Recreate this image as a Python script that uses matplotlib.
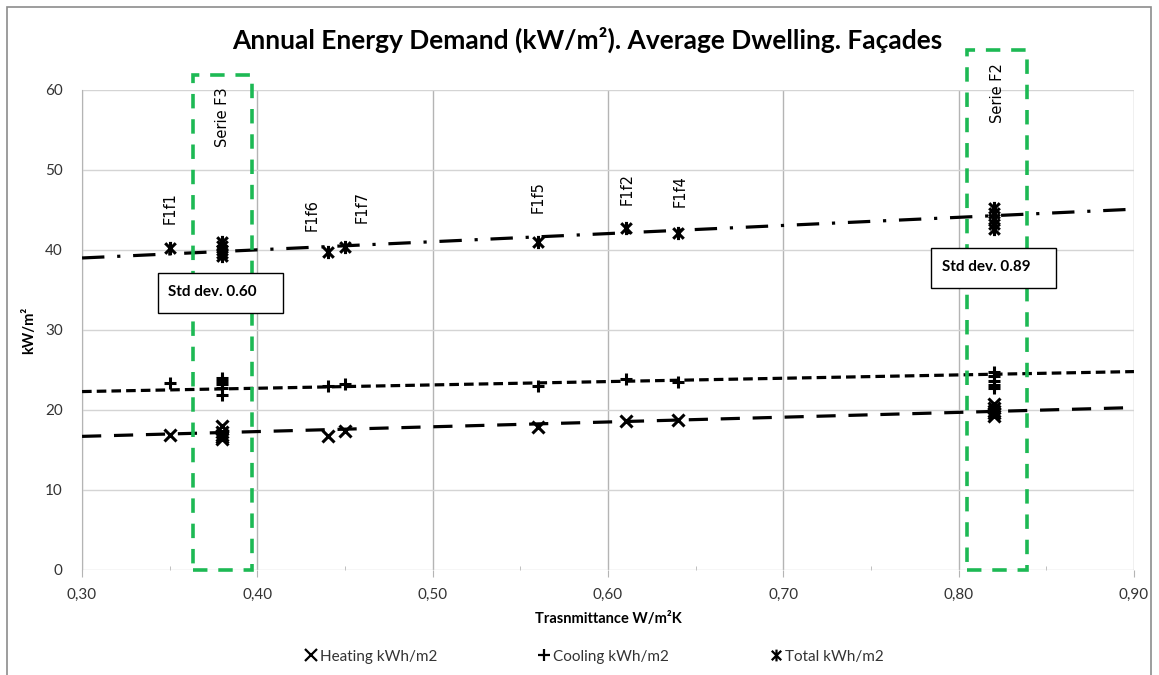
import numpy as np
import matplotlib
matplotlib.use("Agg")
import matplotlib.pyplot as plt
from matplotlib.patches import Rectangle
from matplotlib.path import Path
from matplotlib.ticker import FuncFormatter, MultipleLocator
from matplotlib.lines import Line2D

# Transmittance of each façade (W/m²K)
transmittance = [0.35, 0.38, 0.38, 0.38, 0.38, 0.38, 0.44, 0.45, 0.56, 0.61, 0.64,
                 0.82, 0.82, 0.82, 0.82, 0.82]
heating = [16.9, 18.0, 17.3, 16.9, 16.6, 16.4, 16.8, 17.4, 17.9, 18.6, 18.8,
           20.8, 20.3, 19.9, 19.6, 19.3]
cooling = [23.4, 24.0, 23.6, 23.2, 22.8, 21.9, 23.0, 23.2, 23.0, 23.9, 23.5,
           24.7, 24.2, 23.6, 23.1, 22.8]
total = [40.3, 41.0, 40.5, 40.0, 39.6, 39.2, 39.8, 40.4, 41.0, 42.8, 42.1,
         45.2, 44.6, 43.9, 43.2, 42.6]

# Linear trend lines: value at U = 0.30 and at U = 0.90
trend_u = [0.30, 0.90]
heating_trend = [16.7, 20.3]
cooling_trend = [22.3, 24.8]
total_trend = [39.0, 45.1]

# Individual façade labels
label_names = ["F1f1", "F1f6", "F1f7", "F1f5", "F1f2", "F1f4"]
label_x = [0.350, 0.431, 0.460, 0.560, 0.611, 0.641]
label_y = [45.2, 44.4, 45.4, 46.6, 47.6, 47.4]

# Groups of façades
group_names = ["Serie F3", "Serie F2"]
group_x0 = [0.363, 0.805]
group_x1 = [0.397, 0.839]
group_top = [61.9, 65.0]
group_label_y = [56.6, 59.6]
group_std = ["Std dev. 0.60", "Std dev. 0.89"]
std_box_x = [0.3433, 0.7845]
std_box_y = [32.1, 35.3]

x_ticks = [0.30, 0.40, 0.50, 0.60, 0.70, 0.80, 0.90]
y_ticks = [0, 10, 20, 30, 40, 50, 60]

plt.rcParams["font.family"] = ["Lato", "DejaVu Sans"]

# Star marker: an x crossed by a vertical bar
star = Path([(-1, -1), (1, 1), (-1, 1), (1, -1), (0, -1.25), (0, 1.25)],
            [Path.MOVETO, Path.LINETO, Path.MOVETO, Path.LINETO, Path.MOVETO, Path.LINETO])

fig = plt.figure(figsize=(11.59, 6.75), dpi=100)
ax = fig.add_axes([0.0708, 0.1556, 0.9076, 0.7111])

ax.set_xlim(0.30, 0.90)
ax.set_ylim(0, 60)
ax.set_xticks(x_ticks)
ax.set_yticks(y_ticks)
ax.xaxis.set_minor_locator(MultipleLocator(0.05))
ax.xaxis.set_major_formatter(FuncFormatter(lambda v, p: f"{v:.2f}".replace(".", ",")))
ax.grid(axis="y", color="#d4d4d4", lw=1.0)
ax.grid(axis="x", color="#b4b4b4", lw=1.0)
ax.set_axisbelow(True)
for side in ["top", "right", "bottom"]:
    ax.spines[side].set_visible(False)
ax.spines["left"].set_color("#b4b4b4")
ax.tick_params(axis="x", which="major", length=5, color="#b4b4b4", labelsize=11,
               labelcolor="#333333", pad=8)
ax.tick_params(axis="x", which="minor", length=3, color="#b4b4b4", direction="in")
ax.tick_params(axis="y", length=0, labelsize=11, labelcolor="#333333", pad=14)

xs = np.array(transmittance)
series = [
    (heating, heating_trend, "x", 9, (0, (6, 4)), "Heating kWh/m2"),
    (cooling, cooling_trend, "+", 9, (0, (3, 1.6)), "Cooling kWh/m2"),
    (total, total_trend, star, 9.5, (0, (7, 4, 1, 4)), "Total kWh/m2"),
]
handles = []
for vals, trend, marker, ms, ls, name in series:
    ax.plot(trend_u, trend, color="black", lw=2.3, ls=ls, zorder=3)
    ax.plot(xs, vals, ls="none", marker=marker, ms=ms, mew=2.2, color="black", zorder=4)
    handles.append(Line2D([], [], ls="none", marker=marker, ms=ms - 1, mew=1.6,
                          color="black", label=name))

for name, x, y in zip(label_names, label_x, label_y):
    ax.text(x, y, name, rotation=90, ha="center", va="center", fontsize=10.5,
            family="DejaVu Sans")

for name, x0, x1, top, ly, sd, bx, by in zip(group_names, group_x0, group_x1, group_top,
                                              group_label_y, group_std, std_box_x, std_box_y):
    ax.add_patch(Rectangle((x0, 0), x1 - x0, top, fill=False, ec="#1db954", lw=2.6,
                           ls=(0, (4, 3)), clip_on=False, zorder=5))
    ax.text((x0 + x1) / 2, ly, name, rotation=90, ha="center", va="center",
            fontsize=10.5, family="DejaVu Sans")
    ax.add_patch(Rectangle((bx, by), 0.0712, 5.0, fc="white", ec="black", lw=1.0,
                           zorder=6))
    ax.text(bx + 0.006, by + 2.6, sd, ha="left", va="center", fontsize=11,
            fontweight="bold", zorder=7)

fig.text(587 / 1159, 1 - 40 / 675, "Annual Energy Demand (kW/m²). Average Dwelling. Façades",
         fontsize=19, fontweight="bold", ha="center", va="center")
ax.set_xlabel("Trasnmittance W/m²K", fontsize=10.5, fontweight="bold", labelpad=7)
ax.set_ylabel("kW/m²", fontsize=10.5, fontweight="bold", labelpad=6)

fig.legend(handles=handles, loc="center", bbox_to_anchor=(0.512, 0.027), ncol=3,
           frameon=False, fontsize=11, columnspacing=6.5, handletextpad=0.1,
           handlelength=1.0, labelcolor="#333333")

fig.add_artist(Rectangle((7 / 1159, -0.05), 1144 / 1159, 1.05 - 7 / 675, fill=False,
                         ec="#8c8c8c", lw=1.2, transform=fig.transFigure))

fig.savefig("out.png", dpi=100)
